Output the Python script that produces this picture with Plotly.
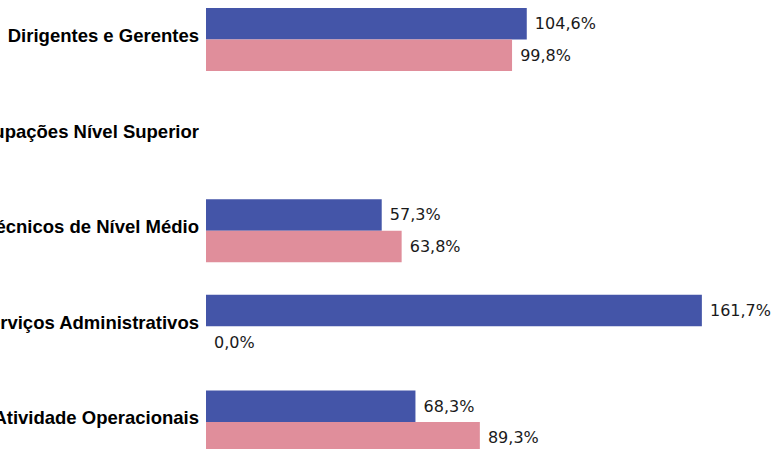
import plotly.graph_objects as go

categories = ["Dirigentes e Gerentes", "Ocupações Nível Superior", "Técnicos de Nível Médio",
              "Serviços Administrativos", "Atividade Operacionais"]
serie_azul = [104.6, None, 57.3, 161.7, 68.3]
serie_rosa = [99.8, None, 63.8, 0.0, 89.3]

def fmt(v):
    return None if v is None else "\u00a0" + f"{v:.1f}".replace(".", ",") + "%"

pos = list(range(len(categories)))

fig = go.Figure()
for vals, color in [(serie_azul, "#4455A8"), (serie_rosa, "#E08E9B")]:
    fig.add_trace(go.Bar(
        y=pos, x=vals, orientation="h",
        marker=dict(color=color, line=dict(width=0)),
        text=[fmt(v) for v in vals], textposition="outside", cliponaxis=False,
        textfont=dict(family="DejaVu Sans", size=16, color="#1a1a1a"),
        hoverinfo="skip",
    ))

fig.update_layout(
    width=777, height=449,
    margin=dict(l=206, r=0, t=0, b=0, autoexpand=False),
    barmode="group", bargap=0.34, bargroupgap=0,
    showlegend=False,
    plot_bgcolor="white", paper_bgcolor="white",
)
fig.update_xaxes(range=[0, 186.2], visible=False, showgrid=False, zeroline=False,
                 automargin=False)
fig.update_yaxes(range=[4.283, -0.413], tickvals=pos, ticktext=categories,
                 showgrid=False, zeroline=False, showline=False, ticks="",
                 automargin=False,
                 ticklabelstandoff=6, ticklabelshift=4,
                 tickfont=dict(family="Liberation Sans", size=18.5, color="black", weight="bold"))

fig.write_html("out.html", config={"displayModeBar": False},
               post_script="document.body.style.margin='0';document.body.style.overflow='hidden';")
